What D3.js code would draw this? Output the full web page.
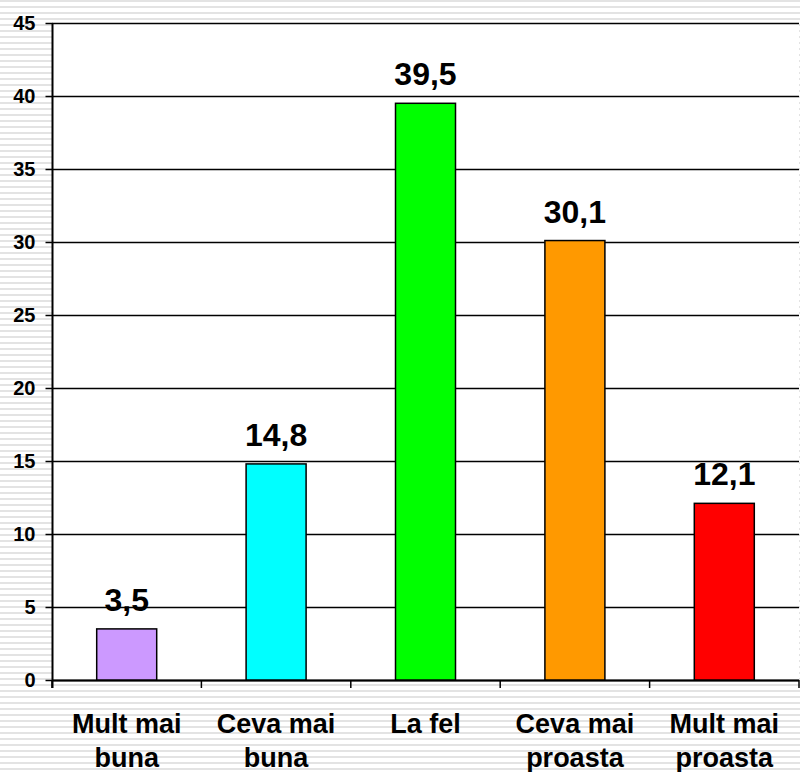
<!DOCTYPE html>
<html>
<head>
<meta charset="utf-8">
<script src="https://cdn.jsdelivr.net/npm/d3@7"></script>
<style>
  html, body { margin: 0; padding: 0; background: #fff; }
  svg { display: block; }
</style>
</head>
<body>
<svg id="chart" width="800" height="772"></svg>
<script>
const categories = [["Mult mai", "buna"], ["Ceva mai", "buna"], ["La fel"], ["Ceva mai", "proasta"], ["Mult mai", "proasta"]];
const values = [3.5, 14.8, 39.5, 30.1, 12.1];
const valueLabels = ["3,5", "14,8", "39,5", "30,1", "12,1"];
const colors = ["#CC99FF", "#00FFFF", "#00FF00", "#FF9900", "#FF0000"];
const yTicks = [0, 5, 10, 15, 20, 25, 30, 35, 40, 45];

(function () {
const svg = d3.select("#chart");
const W = 800, H = 772;
const mLeft = 52, mRight = 799, mTop = 23, mBottom = 680;

// striped background
const defs = svg.append("defs");
const pat = defs.append("pattern").attr("id", "stripes").attr("patternUnits", "userSpaceOnUse")
  .attr("width", 8).attr("height", 6);
pat.append("rect").attr("width", 8).attr("height", 6).attr("fill", "#ffffff");
pat.append("rect").attr("y", 0).attr("width", 8).attr("height", 2).attr("fill", "#e3e3e3");
svg.append("rect").attr("width", W).attr("height", H).attr("fill", "url(#stripes)");

// plot area
svg.append("rect").attr("x", mLeft).attr("y", mTop).attr("width", mRight - mLeft).attr("height", mBottom - mTop).attr("fill", "#ffffff");

const x = d3.scaleBand().domain(d3.range(categories.length)).range([mLeft, mRight]).padding(0);
const y = d3.scaleLinear().domain([0, 45]).range([mBottom, mTop]);

// gridlines
svg.append("g").selectAll("line").data(yTicks).join("line")
  .attr("x1", mLeft).attr("x2", mRight)
  .attr("y1", d => Math.round(y(d)) + 0.5).attr("y2", d => Math.round(y(d)) + 0.5)
  .attr("stroke", "#000").attr("stroke-width", 1.5);

// y axis
const yAxis = d3.axisLeft(y).tickValues(yTicks).tickSize(7).tickPadding(10).tickFormat(d3.format("d"));
const ya = svg.append("g").attr("transform", `translate(${mLeft + 0.5},0)`).call(yAxis);
ya.select(".domain").attr("stroke", "#000").attr("stroke-width", 2).attr("d", `M0,${mTop}V${mBottom + 8}`);
ya.selectAll(".tick line").attr("stroke", "#000").attr("stroke-width", 1.5);
ya.selectAll(".tick text").attr("font-family", "Liberation Sans, Arial, sans-serif")
  .attr("font-weight", "bold").attr("font-size", 20).attr("fill", "#000");

// x axis ticks
const xb = d3.range(categories.length + 1).map(i => mLeft + i * x.bandwidth());
svg.append("g").selectAll("line").data(xb).join("line")
  .attr("x1", d => Math.min(d, mRight)).attr("x2", d => Math.min(d, mRight))
  .attr("y1", mBottom).attr("y2", mBottom + 8).attr("stroke", "#000").attr("stroke-width", 1.5);
svg.append("line").attr("x1", mLeft).attr("x2", mRight).attr("y1", mBottom + 0.5).attr("y2", mBottom + 0.5)
  .attr("stroke", "#000").attr("stroke-width", 2);

// bars
const bw = 60;
svg.append("g").selectAll("rect").data(values).join("rect")
  .attr("x", (d, i) => x(i) + x.bandwidth() / 2 - bw / 2)
  .attr("y", d => y(d))
  .attr("width", bw)
  .attr("height", d => y(0) - y(d))
  .attr("fill", (d, i) => colors[i])
  .attr("stroke", "#000").attr("stroke-width", 1.5);

// value labels
svg.append("g").selectAll("text").data(values).join("text")
  .attr("x", (d, i) => x(i) + x.bandwidth() / 2)
  .attr("y", d => y(d) - 18)
  .attr("text-anchor", "middle")
  .attr("font-family", "Liberation Sans, Arial, sans-serif")
  .attr("font-weight", "bold").attr("font-size", 32).attr("fill", "#000")
  .text((d, i) => valueLabels[i]);

// category labels
const cl = svg.append("g").selectAll("text").data(categories).join("text")
  .attr("x", (d, i) => x(i) + x.bandwidth() / 2)
  .attr("y", 733)
  .attr("text-anchor", "middle")
  .attr("font-family", "Liberation Sans, Arial, sans-serif")
  .attr("font-weight", "bold").attr("font-size", 27).attr("fill", "#000");
cl.each(function(d, i) {
  const t = d3.select(this);
  d.forEach((line, j) => {
    t.append("tspan").attr("x", x(i) + x.bandwidth() / 2).attr("dy", j === 0 ? 0 : 34).text(line);
  });
});
})();
</script>
</body>
</html>
